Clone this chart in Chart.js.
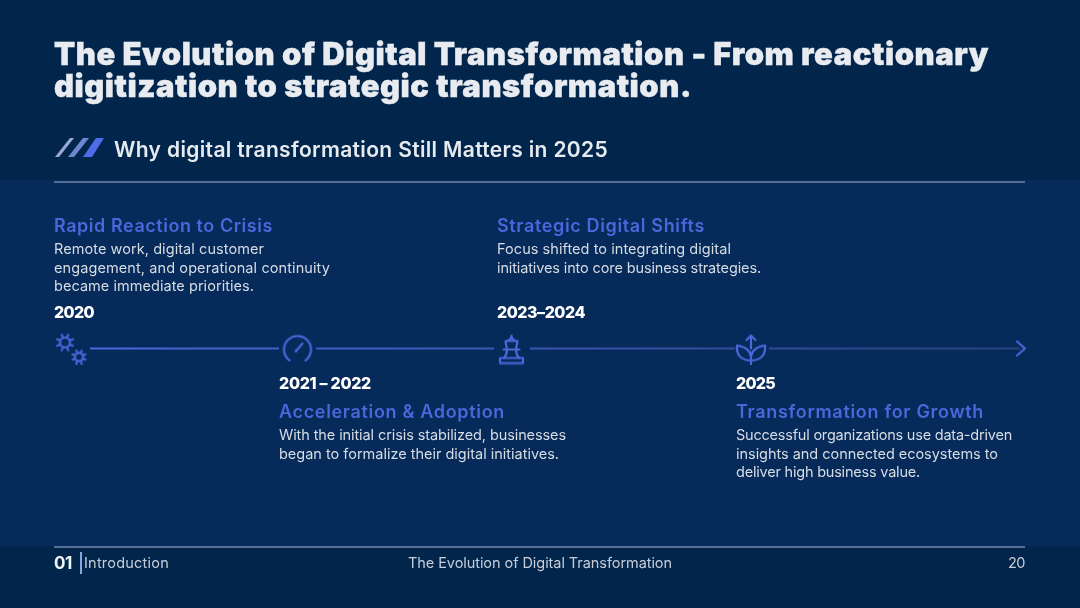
<!DOCTYPE html>
<html>
<head>
<meta charset="utf-8">
<title>The Evolution of Digital Transformation</title>
<script src="https://cdn.jsdelivr.net/npm/chart.js@4"></script>
<style>
  html, body { margin: 0; padding: 0; background: #02264b; }
  #slide { position: relative; width: 1080px; height: 608px; overflow: hidden; background: #02264b; font-family: Inter, "Open Sans", sans-serif; }
  #band { position: absolute; left: 0; top: 180px; width: 1080px; height: 366px; background: #062a59; }
  .rule { position: absolute; left: 54px; width: 971px; height: 2px; background: #566d96; }
  #chartBox { position: absolute; left: 0; top: 0; width: 1080px; height: 608px; }
  .t { position: absolute; white-space: nowrap; line-height: 1; transform: translateY(-50%); }
  .title { font-size: 31px; font-weight: 900; color: #e8ecf1; -webkit-text-stroke: 0.4px #e8ecf1; }
  .sub { font-size: 21px; font-weight: 600; color: #e6ebf0; }
  .head { font-size: 18px; font-weight: 600; color: #4a67dc; }
  .body { font-size: 14.5px; font-weight: 400; color: #d6dce4; }
  .year { font-size: 16px; font-weight: 800; color: #ffffff; }
  .foot { font-size: 14.5px; font-weight: 400; color: #c6cdd9; }
  #footNum { font-size: 17px; font-weight: 700; color: #eef1f5; }
  #footBar { position: absolute; left: 80px; top: 552px; width: 2px; height: 22px; background: #8aa6dc; }
</style>
</head>
<body>
<div id="slide">
  <div id="band"></div>
  <div class="rule" style="top:181px"></div>
  <div class="rule" style="top:546px"></div>

  <svg style="position:absolute;left:50px;top:134px" width="60" height="28">
    <polygon points="5,23 9,23 24,4 20,4" fill="#9aa8d8"/>
    <polygon points="18,23 24,23 39,4 33,4" fill="#6f86d0"/>
    <polygon points="33,23 42,23 54,4 46,4" fill="#4f6be8"/>
  </svg>

  <div id="chartBox"><canvas id="timeline" width="1080" height="608"></canvas></div>

  <div class="t title" style="left:54px;top:53px" data-w="935">The Evolution of Digital Transformation - From reactionary</div>
  <div class="t title" style="left:54px;top:85px" data-w="638">digitization to strategic transformation.</div>
  <div class="t sub" style="left:114px;top:149px" data-w="494">Why digital transformation Still Matters in 2025</div>

  <div class="t head" style="left:54px;top:226px" data-w="219">Rapid Reaction to Crisis</div>
  <div class="t body" style="left:54px;top:249px" data-w="210">Remote work, digital customer</div>
  <div class="t body" style="left:54px;top:268px" data-w="276">engagement, and operational continuity</div>
  <div class="t body" style="left:54px;top:286px" data-w="200">became immediate priorities.</div>
  <div class="t year" style="left:54px;top:312px" data-w="40">2020</div>

  <div class="t head" style="left:497px;top:226px" data-w="208">Strategic Digital Shifts</div>
  <div class="t body" style="left:497px;top:249px" data-w="234">Focus shifted to integrating digital</div>
  <div class="t body" style="left:497px;top:268px" data-w="264">initiatives into core business strategies.</div>
  <div class="t year" style="left:497px;top:312px" data-w="88">2023–2024</div>

  <div class="t year" style="left:279px;top:383px" data-w="92">2021 – 2022</div>
  <div class="t head" style="left:279px;top:412px" data-w="226">Acceleration &amp; Adoption</div>
  <div class="t body" style="left:279px;top:435px" data-w="287">With the initial crisis stabilized, businesses</div>
  <div class="t body" style="left:279px;top:454px" data-w="280">began to formalize their digital initiatives.</div>

  <div class="t year" style="left:736px;top:383px" data-w="39">2025</div>
  <div class="t head" style="left:736px;top:412px" data-w="248">Transformation for Growth</div>
  <div class="t body" style="left:736px;top:435px" data-w="276">Successful organizations use data-driven</div>
  <div class="t body" style="left:736px;top:454px" data-w="262">insights and connected ecosystems to</div>
  <div class="t body" style="left:736px;top:472px" data-w="184">deliver high business value.</div>

  <div class="t" id="footNum" style="left:54px;top:563px" data-w="18">01</div>
  <div id="footBar"></div>
  <div class="t foot" style="left:84px;top:563px" data-w="85">Introduction</div>
  <div class="t foot" style="left:408px;top:563px" data-w="264">The Evolution of Digital Transformation</div>
  <div class="t foot" style="left:1008px;top:563px" data-w="17">20</div>
</div>

<script>
// timeline data (x axis runs along the slide width)
const segmentStarts = [90, 316, 530, 769];
const segmentEnds = [279, 494, 735, 1020];
const milestoneLabels = ['2020', '2021 – 2022', '2023–2024', '2025'];
const milestoneX = [71.5, 297.5, 512, 751];
const arrowX = [1021];
const baselineY = 348.5;

const iconBlue = '#4a67dc';

// stretch letter spacing so each line ends where it should
document.querySelectorAll('.t[data-w]').forEach(function(el) {
    const target = parseFloat(el.dataset.w);
    const n = el.textContent.length;
    const extra = (target - el.getBoundingClientRect().width) / n;
    el.style.letterSpacing = extra.toFixed(3) + 'px';
});

function makeIcon(size, draw) {
    const c = document.createElement('canvas');
    c.width = size;
    c.height = size;
    const g = c.getContext('2d');
    g.strokeStyle = iconBlue;
    g.fillStyle = iconBlue;
    g.lineWidth = 2.2;
    g.lineCap = 'round';
    g.lineJoin = 'round';
    draw(g);
    return c;
}

function gear(g, cx, cy, r, tip) {
    g.beginPath();
    g.arc(cx, cy, r, 0, Math.PI * 2);
    g.stroke();
    for (let i = 0; i < 8; i++) {
        const a = i * Math.PI / 4 + Math.PI / 8;
        g.beginPath();
        g.moveTo(cx + r * Math.cos(a), cy + r * Math.sin(a));
        g.lineTo(cx + tip * Math.cos(a), cy + tip * Math.sin(a));
        g.stroke();
    }
}

const gearsIcon = makeIcon(32, function(g) {
    gear(g, 9.5, 10, 5, 8.5);
    gear(g, 23.5, 24.5, 4.2, 7);
});

const gaugeIcon = makeIcon(32, function(g) {
    g.beginPath();
    g.arc(16, 17, 13.5, Math.PI * 0.78, Math.PI * 0.22);
    g.stroke();
    g.beginPath();
    g.moveTo(5.5, 25.5);
    g.lineTo(8, 28);
    g.moveTo(26.5, 25.5);
    g.lineTo(24, 28);
    g.stroke();
    g.beginPath();
    g.moveTo(15, 18);
    g.lineTo(21, 11);
    g.stroke();
    g.beginPath();
    g.arc(14.5, 18.5, 1.5, 0, Math.PI * 2);
    g.fill();
});

const chessIcon = makeIcon(32, function(g) {
    g.strokeRect(4, 25.5, 23, 5);
    g.beginPath();
    g.moveTo(8, 25.5);
    g.quadraticCurveTo(11, 22, 11, 17);
    g.moveTo(23, 25.5);
    g.quadraticCurveTo(20, 22, 20, 17);
    g.moveTo(7.5, 17);
    g.lineTo(23.5, 17);
    g.moveTo(11, 17);
    g.lineTo(9.5, 8.5);
    g.lineTo(21.5, 8.5);
    g.lineTo(20, 17);
    g.moveTo(11, 8.5);
    g.quadraticCurveTo(15.5, 7, 15.5, 3);
    g.quadraticCurveTo(15.5, 7, 20, 8.5);
    g.stroke();
});

const plantIcon = makeIcon(32, function(g) {
    g.beginPath();
    g.moveTo(16, 31);
    g.lineTo(16, 20);
    g.moveTo(16, 16);
    g.lineTo(16, 3);
    g.moveTo(11.5, 7.5);
    g.lineTo(16, 3);
    g.lineTo(20.5, 7.5);
    g.moveTo(16, 28);
    g.bezierCurveTo(6, 28, 1, 22, 2, 13);
    g.bezierCurveTo(9, 14, 15, 17, 16, 24);
    g.moveTo(16, 28);
    g.bezierCurveTo(26, 28, 31, 22, 30, 13);
    g.bezierCurveTo(23, 14, 17, 17, 16, 24);
    g.stroke();
});

const arrowIcon = makeIcon(20, function(g) {
    g.beginPath();
    g.moveTo(6, 3);
    g.lineTo(14, 10);
    g.lineTo(6, 17);
    g.stroke();
});

const ctx = document.getElementById('timeline').getContext('2d');
const fade = ctx.createLinearGradient(90, 0, 1020, 0);
fade.addColorStop(0, '#4a67dc');
fade.addColorStop(1, '#27417f');

const datasets = segmentStarts.map(function(start, i) {
    return {
        type: 'line',
        label: 'segment ' + (i + 1),
        data: [{ x: start, y: baselineY }, { x: segmentEnds[i], y: baselineY }],
        borderColor: fade,
        borderWidth: 2,
        pointRadius: 0
    };
});
datasets.push({
    type: 'scatter',
    label: 'milestones',
    data: milestoneX.map(function(x, i) {
        return { x: x, y: baselineY, name: milestoneLabels[i] };
    }),
    pointStyle: [gearsIcon, gaugeIcon, chessIcon, plantIcon],
    pointRadius: 16,
    clip: false
});
datasets.push({
    type: 'scatter',
    label: 'arrow',
    data: arrowX.map(function(x) {
        return { x: x, y: baselineY };
    }),
    pointStyle: arrowIcon,
    pointRadius: 10,
    clip: false
});

new Chart(ctx, {
    type: 'scatter',
    data: { datasets: datasets },
    options: {
        responsive: false,
        animation: false,
        layout: { padding: 0, autoPadding: false },
        plugins: { legend: { display: false }, tooltip: { enabled: false } },
        scales: {
            x: { type: 'linear', min: 0, max: 1080, display: false },
            y: { type: 'linear', min: 0, max: 608, reverse: true, display: false }
        }
    }
});
</script>
</body>
</html>
